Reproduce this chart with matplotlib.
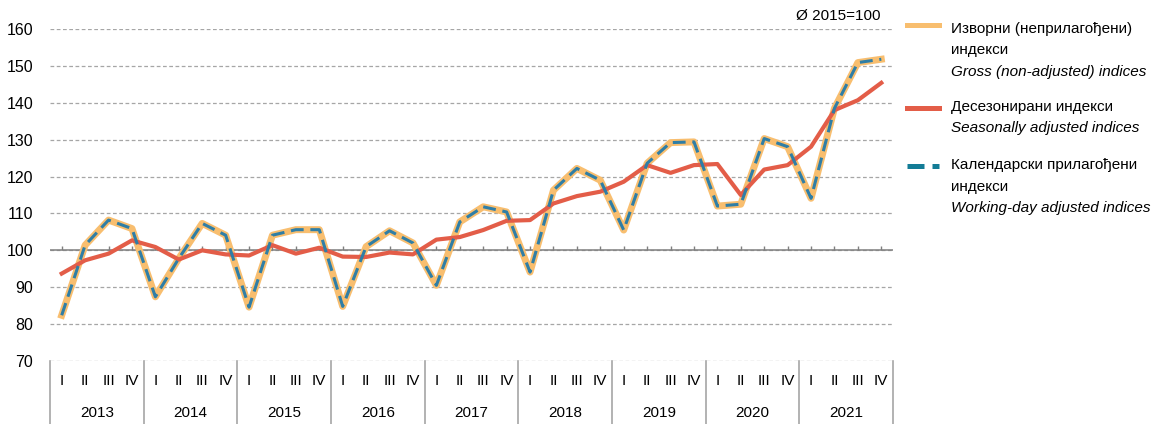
import matplotlib.pyplot as plt
from matplotlib.lines import Line2D
from matplotlib.transforms import blended_transform_factory

plt.rcParams['font.family'] = ['Liberation Sans', 'DejaVu Sans']

years = ['2013', '2014', '2015', '2016', '2017', '2018', '2019', '2020', '2021']
quarters = ['I', 'II', 'III', 'IV']

gross = [82.4, 101.4, 108.2, 105.9, 87.4, 97.8, 107.3, 104.1,
         84.6, 104.1, 105.6, 105.6, 84.8, 101.0, 105.3, 102.0,
         90.5, 107.7, 111.8, 110.4, 94.1, 116.3, 122.2, 119.0,
         105.5, 123.6, 129.2, 129.4, 112.0, 112.5, 130.3, 128.1,
         114.1, 138.5, 150.9, 151.8]
seas_adj = [93.7, 97.3, 99.1, 102.7, 100.9, 97.5, 100.0, 98.9,
            98.6, 101.4, 99.1, 100.7, 98.3, 98.2, 99.4, 98.9,
            102.9, 103.6, 105.5, 108.0, 108.2, 112.7, 114.7, 115.9,
            118.6, 123.1, 121.0, 123.1, 123.4, 115.0, 121.9, 123.1,
            128.1, 138.0, 140.7, 145.4]
wda = [82.4, 101.4, 108.2, 105.9, 87.4, 97.8, 107.3, 104.1,
       84.6, 104.1, 105.6, 105.6, 84.8, 101.0, 105.3, 102.0,
       90.5, 107.7, 111.8, 110.4, 94.1, 116.3, 122.2, 119.0,
       105.5, 123.6, 129.2, 129.4, 112.0, 112.5, 130.3, 128.1,
       114.1, 138.5, 150.9, 151.8]

c_gross = '#F8BE6F'
c_sa = '#E35D48'
c_wda = '#2F7EA6'
c_grid = '#A6A6A6'
fs = 11

fig = plt.figure(figsize=(11.65, 4.24), dpi=100)
ax = fig.add_axes([50/1165, 1-361/424, 843/1165, 332/424])

x = list(range(len(gross)))
ax.plot(x, gross, color=c_gross, lw=5.0, zorder=3)
ax.plot(x, seas_adj, color=c_sa, lw=3.0, zorder=4)
ax.plot(x, wda, color=c_wda, lw=2.2, dashes=(4.2, 2.2), zorder=5)

ax.set_xlim(-0.5, len(x) - 0.5)
ax.set_ylim(70, 160)
ax.set_yticks(range(70, 161, 10))
ax.tick_params(axis='y', length=0, pad=12, labelsize=fs + 0.5)
ax.set_xticks([])
for s in ax.spines.values():
    s.set_visible(False)
ax.grid(axis='y', color=c_grid, lw=0.9, ls=(0, (3, 2)))
ax.set_axisbelow(True)

# axis line at 100 with small ticks at each quarter
ax.axhline(100, color='#7F7F7F', lw=1.1, zorder=2)
ax.vlines(x, 100, 101.1, color='#7F7F7F', lw=1.0, zorder=2)

# category table below the plot
tr = blended_transform_factory(ax.transData, ax.transAxes)
bottom = -63/332
for i in range(len(years) + 1):
    ax.plot([i*4 - 0.5]*2, [0, bottom], transform=tr, color=c_grid,
            lw=1.2, clip_on=False)
for i, yr in enumerate(years):
    for j, q in enumerate(quarters):
        ax.text(i*4 + j, -20/332, q, transform=tr, ha='center', va='center',
                fontsize=fs)
    ax.text(i*4 + 1.5, -52/332, yr, transform=tr, ha='center', va='center',
            fontsize=fs)

ax.text(0.985, 1.04, 'Ø 2015=100', transform=ax.transAxes, ha='right',
        va='center', fontsize=fs)

# legend drawn by hand (mixed regular / italic lines)
lx0, lx1, tx = 907/1165, 939/1165, 951/1165
fy = lambda py: 1 - py/424
fig.add_artist(Line2D([lx0, lx1], [fy(25)]*2, color=c_gross, lw=3.6))
fig.add_artist(Line2D([lx0, lx1], [fy(108)]*2, color=c_sa, lw=3.6))
fig.add_artist(Line2D([lx0, lx1], [fy(166)]*2, color='#137C96', lw=3.6,
                      dashes=(3.4, 1.6)))
entries = [(29, 'Изворни (неприлагођени)', 'normal'),
           (50, 'индекси', 'normal'),
           (72, 'Gross (non-adjusted) indices', 'italic'),
           (107, 'Десезонирани индекси', 'normal'),
           (128, 'Seasonally adjusted indices', 'italic'),
           (165, 'Календарски прилагођени', 'normal'),
           (187, 'индекси', 'normal'),
           (208, 'Working-day adjusted indices', 'italic')]
for py, txt, st in entries:
    fig.text(tx, fy(py), txt, ha='left', va='center', fontsize=fs, style=st)

fig.savefig('out.png', dpi=100)
